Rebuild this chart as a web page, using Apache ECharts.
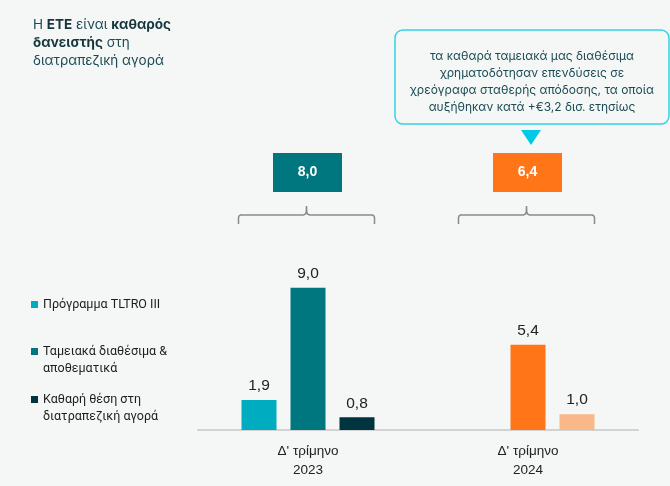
<!DOCTYPE html>
<html><head><meta charset="utf-8">
<script src="https://cdn.jsdelivr.net/npm/echarts@6/dist/echarts.min.js"></script>
<style>html,body{margin:0;padding:0;background:#f4f7f5;}#c{width:670px;height:486px;}</style>
</head><body><div id="c"></div>
<script>
const categories = ["Δ' τρίμηνο\n2023", "Δ' τρίμηνο\n2024"];
const seriesNames = ['Πρόγραμμα TLTRO III', 'Ταμειακά διαθέσιμα &\nαποθεματικά', 'Καθαρή θέση στη\nδιατραπεζική αγορά'];
const tltro = [1.9, null];
const cash = [9.0, 5.4];
const netPos = [0.8, 1.0];
const totals = [8.0, 6.4];
const legendColors = ['#00acc0', '#00767e', '#00353f'];
const colors2024 = [null, '#ff7518', '#f9b78a'];
const calloutText = 'τα καθαρά ταμειακά μας διαθέσιμα\nχρηματοδότησαν επενδύσεις σε\nχρεόγραφα σταθερής απόδοσης, τα οποία\nαυξήθηκαν κατά +€3,2 δισ. ετησίως';

const fmt = v => v.toFixed(1).replace('.', ',');
const FONT = 'Liberation Sans, Arial, sans-serif';

function mkSeries(i, vals) {
  return {
    name: seriesNames[i], type: 'bar', barWidth: 35, barGap: '40%',
    itemStyle: { color: legendColors[i] },
    data: vals.map((v, j) => v == null ? '-' : {
      value: v,
      itemStyle: { color: j === 1 && colors2024[i] ? colors2024[i] : legendColors[i] }
    }),
    label: { show: true, position: 'top', distance: 6, color: '#222', fontSize: 15.5, fontFamily: FONT,
      formatter: p => fmt(p.value) }
  };
}
const legendTops = [296, 326, 374];
const chart = echarts.init(document.getElementById('c'));
chart.setOption({
  backgroundColor: '#f4f7f5',
  animation: false,
  grid: { left: 198, right: 32, top: 272, bottom: 56 },
  xAxis: { type: 'category', data: categories,
    axisLine: { lineStyle: { color: '#d3d3d3', width: 2 } },
    axisTick: { show: false },
    axisLabel: { color: '#222', fontSize: 13.5, lineHeight: 19, margin: 12, fontFamily: FONT } },
  yAxis: { type: 'value', min: 0, max: 10, show: false },
  legend: seriesNames.map((n, i) => ({
    data: [n], left: 31, top: legendTops[i], orient: 'vertical', padding: 0,
    icon: 'rect', itemWidth: 7, itemHeight: 7, itemGap: 4, selectedMode: false,
    textStyle: { color: '#1e1e1e', fontSize: 12.5, lineHeight: 17, fontFamily: 'Roboto, sans-serif' },
    formatter: name => i === 0 ? name : '\n' + name
  })),
  series: [mkSeries(0, tltro), mkSeries(1, cash), mkSeries(2, netPos)]
});

const graphics = [];
graphics.push({ type: 'text', x: 33, y: 16, style: {
  text: 'Η {b|ΕΤΕ} είναι {b|καθαρός}\n{b|δανειστής} στη\nδιατραπεζική αγορά',
  fill: '#1c4b55', fontSize: 13.5, lineHeight: 18, fontFamily: 'Inter, sans-serif',
  rich: { b: { fontWeight: 'bold', fill: '#16363d', fontSize: 13.5, lineHeight: 18, fontFamily: 'Inter, sans-serif' } } } });
const boxColors = ['#00767e', '#ff7518'];
categories.forEach((c, i) => {
  const cx = chart.convertToPixel({ xAxisIndex: 0 }, i);
  const bx = cx - 1;
  graphics.push({ type: 'rect', shape: { x: bx - 34, y: 153, width: 69, height: 39 }, style: { fill: boxColors[i] } });
  graphics.push({ type: 'text', x: bx + 0.5, y: 172.5, style: { text: fmt(totals[i]), fill: '#fff', fontSize: 14,
    fontWeight: 'bold', align: 'center', verticalAlign: 'middle', fontFamily: FONT } });
  const b = cx - 1.5;
  graphics.push({ type: 'polyline', shape: { points: [
    [b - 68, 224], [b - 68, 217.5], [b - 67.3, 215.8], [b - 66, 215], [b - 3, 215], [b - 1, 214], [b - 0.2, 211.5], [b, 206],
    [b + 0.2, 211.5], [b + 1, 214], [b + 3, 215], [b + 66, 215], [b + 67.3, 215.8], [b + 68, 217.5], [b + 68, 224]] },
    style: { stroke: '#8a8a8a', lineWidth: 1.5, fill: null } });
  if (i === 1) {
    graphics.push({ type: 'rect', shape: { x: cx - 133, y: 30, width: 274, height: 94, r: 8 },
      style: { fill: 'none', stroke: '#34d2e6', lineWidth: 1.5 } });
    graphics.push({ type: 'text', x: cx + 4, y: 47.5, style: { text: calloutText, fill: '#1c4b55', fontSize: 12,
      lineHeight: 17.2, align: 'center', verticalAlign: 'top', fontFamily: 'Inter, sans-serif' } });
    graphics.push({ type: 'polygon', shape: { points: [[cx - 7, 130], [cx + 13, 130], [cx + 3, 145]] },
      style: { fill: '#00c8e6' } });
  }
});
chart.setOption({ graphic: graphics });
</script></body></html>
